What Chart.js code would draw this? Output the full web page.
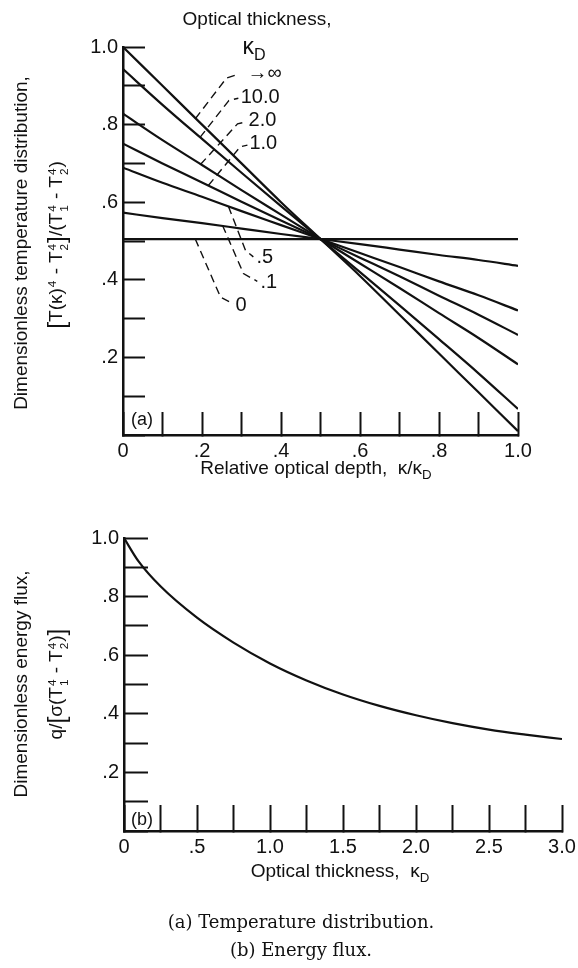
<!DOCTYPE html>
<html>
<head>
<meta charset="utf-8">
<script src="https://cdn.jsdelivr.net/npm/chart.js@4.4.1/dist/chart.umd.min.js"></script>
<style>
  html, body { margin: 0; padding: 0; background: #fff; }
  #page {
    position: relative; width: 578px; height: 968px; overflow: hidden;
    font-family: 'Liberation Sans', Arial, sans-serif;
    color: #111;
  }
  canvas { position: absolute; left: 0; }
  .lbl { position: absolute; white-space: nowrap; font-size: 19px; line-height: 1; transform: translate(-50%, -50%); }
  .rot { transform: translate(-50%, -50%) rotate(-90deg); }
  .ss { display: inline-flex; flex-direction: column; font-size: 0.62em; line-height: 0.95; vertical-align: middle; margin: 0 1px; }
  .sub { font-size: 0.7em; position: relative; top: 0.35em; }
  .br { font-size: 1.3em; vertical-align: -0.1em; }
  .cap { font-family: 'DejaVu Serif', serif; font-size: 18px; }
</style>
</head>
<body>
<div id="page">
  <canvas id="tempChart" width="578" height="500" style="top:0"></canvas>
  <canvas id="fluxChart" width="578" height="396" style="top:500px"></canvas>

  <div class="lbl" style="left:257px; top:18px">Optical thickness,</div>
  <div class="lbl" style="left:254px; top:46px; font-size:23px">κ<span class="sub">D</span></div>

  <div class="lbl rot" style="left:20px; top:243px">Dimensionless temperature distribution,</div>
  <div class="lbl rot" style="left:57px; top:245px"><span class="br">[</span>T(κ)<span class="ss"><span>4</span><span>&nbsp;</span></span> - T<span class="ss"><span>4</span><span>2</span></span><span class="br">]</span>/(T<span class="ss"><span>4</span><span>1</span></span> - T<span class="ss"><span>4</span><span>2</span></span>)</div>
  <div class="lbl" style="left:316px; top:467px">Relative optical depth, &nbsp;κ/κ<span class="sub">D</span></div>

  <div class="lbl rot" style="left:20px; top:684px">Dimensionless energy flux,</div>
  <div class="lbl rot" style="left:57px; top:684px">q/<span class="br">[</span>σ(T<span class="ss"><span>4</span><span>1</span></span> - T<span class="ss"><span>4</span><span>2</span></span>)<span class="br">]</span></div>
  <div class="lbl" style="left:340px; top:870px">Optical thickness, &nbsp;κ<span class="sub">D</span></div>

  <div class="lbl cap" style="left:301px; top:922px">(a) Temperature distribution.</div>
  <div class="lbl cap" style="left:301px; top:950px">(b) Energy flux.</div>
</div>
<script>
// (a) temperature profiles across the layer, one list per optical thickness
const relDepth = [0, 0.1, 0.2, 0.3, 0.4, 0.5, 0.6, 0.7, 0.8, 0.9, 1.0];
const tempInf = [1.0, 0.90, 0.80, 0.70, 0.60, 0.505, 0.41, 0.31, 0.21, 0.11, 0.01];
const temp10 = [0.943, 0.851, 0.763, 0.676, 0.590, 0.505, 0.420, 0.334, 0.247, 0.159, 0.067];
const temp2 = [0.828, 0.760, 0.696, 0.631, 0.568, 0.505, 0.442, 0.379, 0.314, 0.250, 0.182];
const temp1 = [0.751, 0.700, 0.651, 0.601, 0.553, 0.505, 0.457, 0.409, 0.359, 0.310, 0.258];
const temp05 = [0.689, 0.650, 0.614, 0.577, 0.541, 0.505, 0.469, 0.433, 0.396, 0.360, 0.321];
const temp01 = [0.573, 0.559, 0.546, 0.532, 0.518, 0.505, 0.492, 0.478, 0.464, 0.451, 0.436];
const temp0 = [0.505, 0.505, 0.505, 0.505, 0.505, 0.505, 0.505, 0.505, 0.505, 0.505, 0.505];

// (b) energy flux against optical thickness
const opticalThickness = [0, 0.1, 0.25, 0.5, 0.75, 1.0, 1.25, 1.5, 1.75, 2.0, 2.25, 2.5, 2.75, 3.0];
const energyFlux = [1.0, 0.92, 0.835, 0.728, 0.643, 0.572, 0.514, 0.466, 0.427, 0.395, 0.368, 0.346, 0.329, 0.314];

const INK = '#111';
const tickFont = { family: "'Liberation Sans', Arial, sans-serif", size: 20 };

// curve names and where their leaders run, in data units
const curveNotes = [
    { text: '→∞', at: [0.315, 0.933], path: [[0.183, 0.815], [0.262, 0.92], [0.292, 0.93]] },
    { text: '10.0', at: [0.298, 0.869], path: [[0.195, 0.767], [0.268, 0.862], [0.292, 0.868]] },
    { text: '2.0', at: [0.318, 0.81], path: [[0.196, 0.697], [0.29, 0.802], [0.312, 0.807]] },
    { text: '1.0', at: [0.32, 0.751], path: [[0.216, 0.643], [0.297, 0.743], [0.315, 0.747]] },
    { text: '.5', at: [0.338, 0.458], path: [[0.267, 0.589], [0.31, 0.476], [0.33, 0.459]] },
    { text: '.1', at: [0.348, 0.393], path: [[0.252, 0.54], [0.305, 0.416], [0.34, 0.396]] },
    { text: '0', at: [0.285, 0.334], path: [[0.183, 0.505], [0.247, 0.355], [0.28, 0.338]] },
];

const toPoints = (xs, ys) => xs.map((x, i) => ({ x: x, y: ys[i] }));

const curve = (ys) => ({
    data: toPoints(relDepth, ys),
    borderColor: INK,
    borderWidth: 2.2,
    pointRadius: 0,
    cubicInterpolationMode: 'monotone',
});

const leader = (path) => ({
    data: path.map(p => ({ x: p[0], y: p[1] })),
    borderColor: INK,
    borderWidth: 1.4,
    borderDash: [8, 5],
    pointRadius: 0,
    tension: 0,
});

// text written on the plot area at data positions
const plotText = {
    id: 'plotText',
    afterDatasetsDraw(chart, args, opts) {
        const { ctx, scales: { x, y } } = chart;
        ctx.save();
        ctx.fillStyle = INK;
        ctx.textBaseline = 'middle';
        (opts.items || []).forEach(it => {
            ctx.font = (it.size || 20) + 'px ' + tickFont.family;
            ctx.textAlign = it.align || 'left';
            ctx.fillText(it.text, x.getPixelForValue(it.at[0]), y.getPixelForValue(it.at[1]));
        });
        ctx.restore();
    }
};

const tenths = (v, zero) => {
    const n = Math.round(v * 10);
    if (n % 2) return '';
    if (n === 0) return zero;
    if (n === 10) return '1.0';
    return '.' + n;
};

const axisX = (max, step, tickLen, callback, height) => ({
    type: 'linear',
    min: 0,
    max: max,
    border: { display: true, width: 2.5, color: INK },
    grid: { drawOnChartArea: false, drawTicks: true, tickLength: -tickLen, tickWidth: 2, tickColor: INK },
    ticks: { stepSize: step, autoSkip: false, maxRotation: 0, padding: tickLen + 4, color: INK, font: tickFont, callback: callback },
    afterFit: (s) => { s.height = height; s.paddingLeft = 0; s.paddingRight = 0; },
});

const axisY = (tickLen, width) => ({
    type: 'linear',
    min: 0,
    max: 1,
    border: { display: true, width: 2.5, color: INK },
    grid: { drawOnChartArea: false, drawTicks: true, tickLength: -tickLen, tickWidth: 2, tickColor: INK },
    ticks: { stepSize: 0.1, autoSkip: false, padding: tickLen + 5, color: INK, font: tickFont, callback: (v) => tenths(v, '') },
    afterFit: (s) => { s.width = width; s.paddingTop = 0; s.paddingBottom = 0; },
});

new Chart(document.getElementById('tempChart'), {
    type: 'line',
    data: {
        datasets: [
            curve(tempInf), curve(temp10), curve(temp2), curve(temp1),
            curve(temp05), curve(temp01), curve(temp0),
            ...curveNotes.map(n => leader(n.path)),
        ]
    },
    options: {
        responsive: false,
        animation: false,
        layout: { padding: { top: 47, right: 60, bottom: 0, left: 0 } },
        plugins: {
            legend: { display: false },
            tooltip: { enabled: false },
            plotText: {
                items: [
                    ...curveNotes.map(n => ({ text: n.text, at: n.at })),
                    { text: '(a)', at: [0.048, 0.038], align: 'center', size: 18 },
                ]
            },
        },
        scales: {
            x: axisX(1, 0.1, 23, (v) => tenths(v, '0'), 65),
            y: axisY(22, 123),
        },
    },
    plugins: [plotText],
});

new Chart(document.getElementById('fluxChart'), {
    type: 'line',
    data: {
        datasets: [{
            data: toPoints(opticalThickness, energyFlux),
            borderColor: INK,
            borderWidth: 2.2,
            pointRadius: 0,
            cubicInterpolationMode: 'monotone',
        }]
    },
    options: {
        responsive: false,
        animation: false,
        layout: { padding: { top: 38, right: 16, bottom: 0, left: 0 } },
        plugins: {
            legend: { display: false },
            tooltip: { enabled: false },
            plotText: { items: [{ text: '(b)', at: [0.123, 0.038], align: 'center', size: 18 }] },
        },
        scales: {
            x: axisX(3, 0.25, 26, (v) => {
                const n = Math.round(v * 4);
                if (n % 2) return '';
                if (n === 0) return '0';
                if (n === 2) return '.5';
                return (n / 4).toFixed(1);
            }, 65),
            y: axisY(24, 124),
        },
    },
    plugins: [plotText],
});
</script>
</body>
</html>
